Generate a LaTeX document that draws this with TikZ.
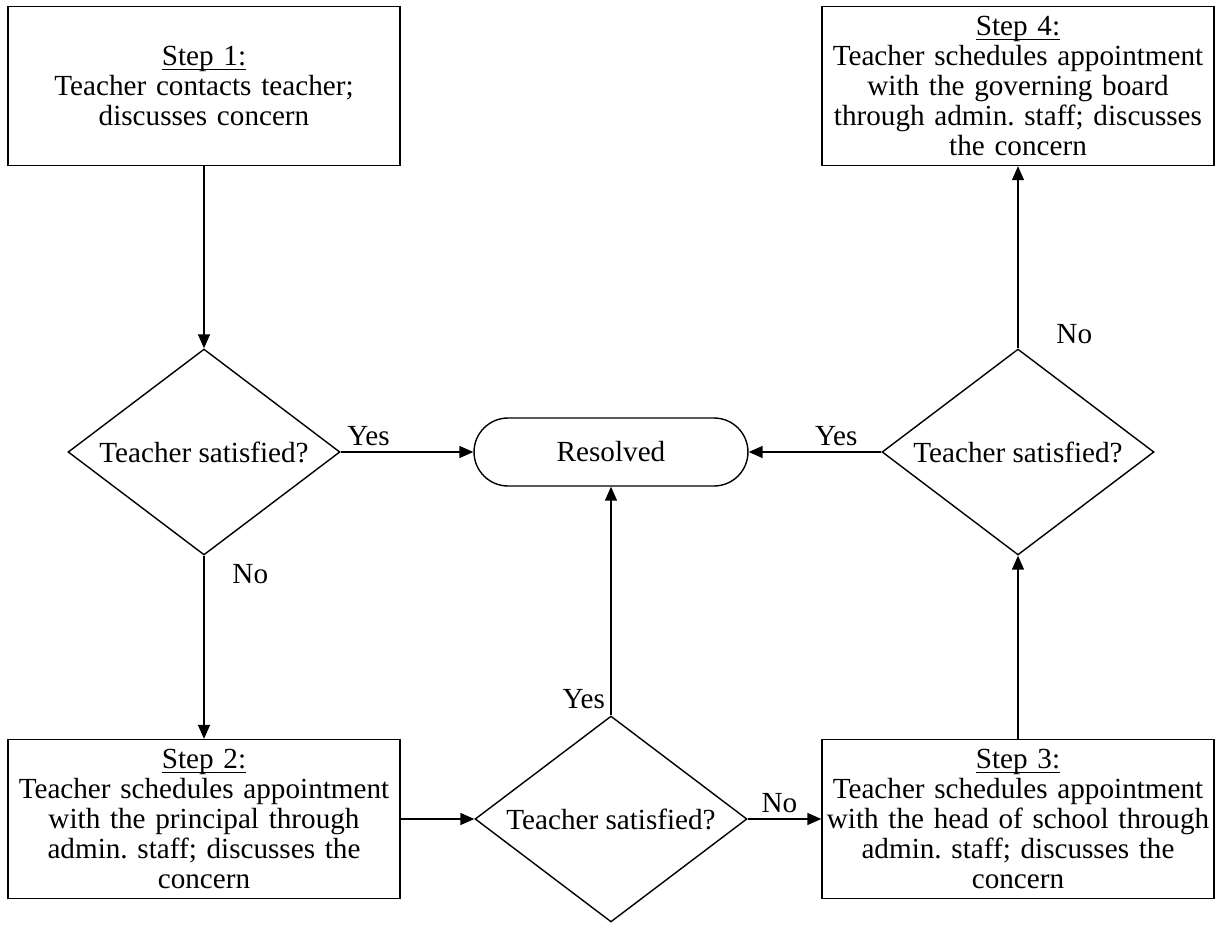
\documentclass[tikz,border=0pt]{standalone}
\usepackage{fontspec}
\setmainfont{Liberation Serif}
\usetikzlibrary{shapes.geometric,arrows.meta,positioning}
\frenchspacing
\newcommand{\stepul}[1]{\setbox0\hbox{#1}\rlap{\rule[-2.6pt]{\wd0}{0.6pt}}\box0}

\begin{document}
\begin{tikzpicture}
  [x=0.02cm,y=-0.02cm,line width=0.8pt,
   every node/.style={font=\fontsize{16.6}{17.2}\selectfont},
   stepbox/.style={draw,rectangle,minimum width=7.84cm,minimum height=3.18cm,
     text width=7.8cm,align=center,inner sep=0pt},
   ask/.style={draw,diamond,aspect=1.32,minimum width=5.44cm,
     minimum height=4.12cm,inner sep=1pt},
   endbox/.style={draw,rectangle,rounded corners=0.68cm,
     minimum width=5.48cm,minimum height=1.36cm},
   lbl/.style={inner sep=3pt},
   arr/.style={-{Triangle[length=0.28cm,width=0.24cm]}}]
  \useasboundingbox (0,0) rectangle (1215,924);

  \node[stepbox] (s1) at (204,86) {\stepul{Step 1:}\\Teacher contacts teacher;\\discusses concern};
  \node[ask] (q1) at (204,452) {Teacher satisfied?};
  \node[endbox] (res) at (611,452) {Resolved};
  \node[stepbox] (s2) at (204,819) {\stepul{Step 2:}\\Teacher schedules appointment\\with the principal through\\admin. staff; discusses the\\concern};
  \node[ask] (q2) at (611,819) {Teacher satisfied?};
  \node[stepbox] (s3) at (1018,819) {\stepul{Step 3:}\\Teacher schedules appointment\\with the head of school through\\admin. staff; discusses the\\concern};
  \node[ask] (q3) at (1018,452) {Teacher satisfied?};
  \node[stepbox] (s4) at (1018,86) {\stepul{Step 4:}\\Teacher schedules appointment\\with the governing board\\through admin. staff; discusses\\the concern};

  \draw[arr] (s1.south) -- (q1.north);
  \draw[arr] (q1.east) -- node[lbl,above,pos=0.21] (y1) {Yes} (res.west);
  \draw[arr] (q1.south) -- node[lbl,right=0.45cm,pos=0.1] (n1) {No} (s2.north);
  \draw[arr] (s2.east) -- (q2.west);
  \draw[arr] (q2.north) -- node[lbl,left,pos=0.07] (y2) {Yes} (res.south);
  \draw[arr] (q2.east) -- node[lbl,above,pos=0.43] (n2) {No} (s3.west);
  \draw[arr] (s3.north) -- (q3.south);
  \draw[arr] (q3.west) -- node[lbl,above,pos=0.34] (y3) {Yes} (res.east);
  \draw[arr] (q3.north) -- node[lbl,right=0.65cm,pos=0.08] (n3) {No} (s4.south);

\end{tikzpicture}
\end{document}
